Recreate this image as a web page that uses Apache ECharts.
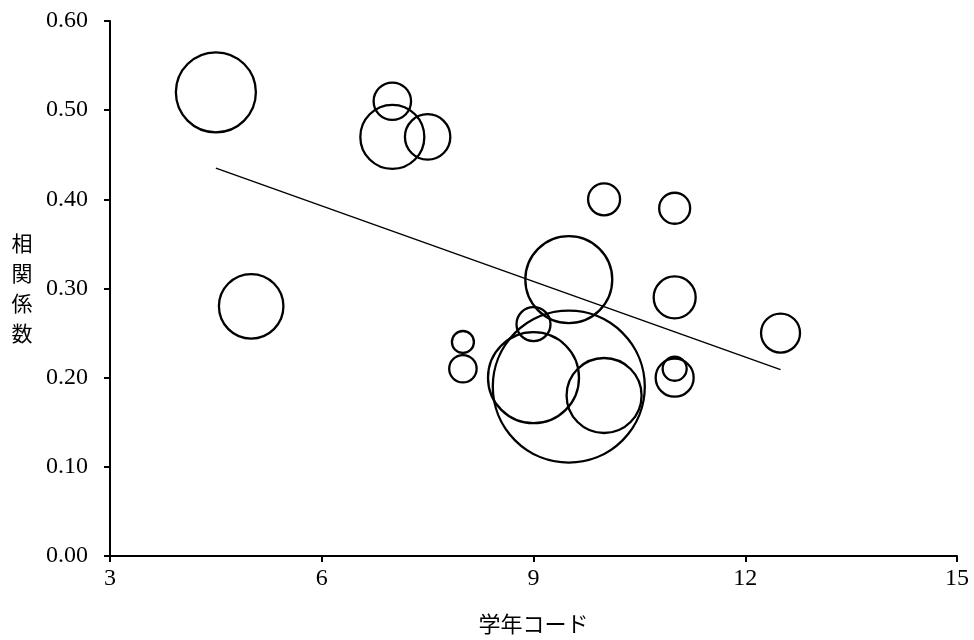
<!DOCTYPE html>
<html>
<head>
<meta charset="utf-8">
<script src="https://cdn.jsdelivr.net/npm/echarts@6/dist/echarts.min.js"></script>
<style>html,body{margin:0;padding:0;background:#fff;}#c{width:974px;height:640px;}</style>
</head>
<body>
<div id="c"></div>
<script>
// 学年コード (x), 相関係数 (y), bubble weight (area-like)
const gradeCode = [4.5, 5, 7, 7, 7.5, 8, 8, 9, 9, 9.5, 9.5, 10, 10, 11, 11, 11, 11, 12.5];
const corr      = [0.52, 0.28, 0.51, 0.47, 0.47, 0.24, 0.21, 0.26, 0.20, 0.31, 0.19, 0.18, 0.40, 0.39, 0.29, 0.21, 0.20, 0.25];
const weight    = [1600, 1040, 350, 1024, 515, 121, 188, 289, 2070, 1890, 5776, 1406, 256, 240, 441, 144, 361, 380];
const trendX = [4.5, 12.5];
const trendY = [0.435, 0.209];
const xTicks = [3, 6, 9, 12, 15];
const yTicks = [0, 0.1, 0.2, 0.3, 0.4, 0.5, 0.6];

const bubbles = gradeCode.map((x, i) => [x, corr[i], weight[i]]);
const trend = trendX.map((x, i) => [x, trendY[i]]);

const serif = '"Liberation Serif", "Times New Roman", serif';
const jp = '"Noto Sans CJK JP", sans-serif';

const chart = echarts.init(document.getElementById('c'));
chart.setOption({
  animation: false,
  backgroundColor: '#fff',
  grid: { left: 110, top: 21, right: 17, bottom: 79 },
  xAxis: {
    type: 'value',
    min: xTicks[0], max: xTicks[xTicks.length - 1], interval: 3,
    name: '学年コード', nameLocation: 'middle', nameGap: 57,
    nameTextStyle: { fontFamily: jp, fontSize: 22, color: '#000' },
    axisLine: { lineStyle: { color: '#000', width: 2 } },
    axisTick: { show: true, inside: false, length: 6, lineStyle: { color: '#000', width: 2 } },
    axisLabel: { fontFamily: serif, fontSize: 24, color: '#000', margin: 11 },
    splitLine: { show: false }
  },
  yAxis: {
    type: 'value',
    min: yTicks[0], max: yTicks[yTicks.length - 1], interval: 0.1,
    name: '相\n関\n係\n数', nameLocation: 'middle', nameGap: 88, nameRotate: 0,
    nameTextStyle: { fontFamily: jp, fontSize: 21, color: '#000', lineHeight: 30, align: 'center' },
    axisLine: { show: true, lineStyle: { color: '#000', width: 2 } },
    axisTick: { show: true, inside: false, length: 6, lineStyle: { color: '#000', width: 2 } },
    axisLabel: { fontFamily: serif, fontSize: 24, color: '#000', margin: 22, formatter: v => v.toFixed(2) },
    splitLine: { show: false }
  },
  series: [
    {
      type: 'scatter',
      data: bubbles,
      symbol: 'circle',
      symbolSize: d => 2 * Math.sqrt(d[2]),
      itemStyle: { color: 'rgba(0,0,0,0)', borderColor: '#000', borderWidth: 2.3, opacity: 1 },
      emphasis: { disabled: true },
      z: 2
    },
    {
      type: 'line',
      data: trend,
      showSymbol: false,
      symbol: 'none',
      lineStyle: { color: '#000', width: 1.5 },
      z: 3
    }
  ]
});
</script>
</body>
</html>
